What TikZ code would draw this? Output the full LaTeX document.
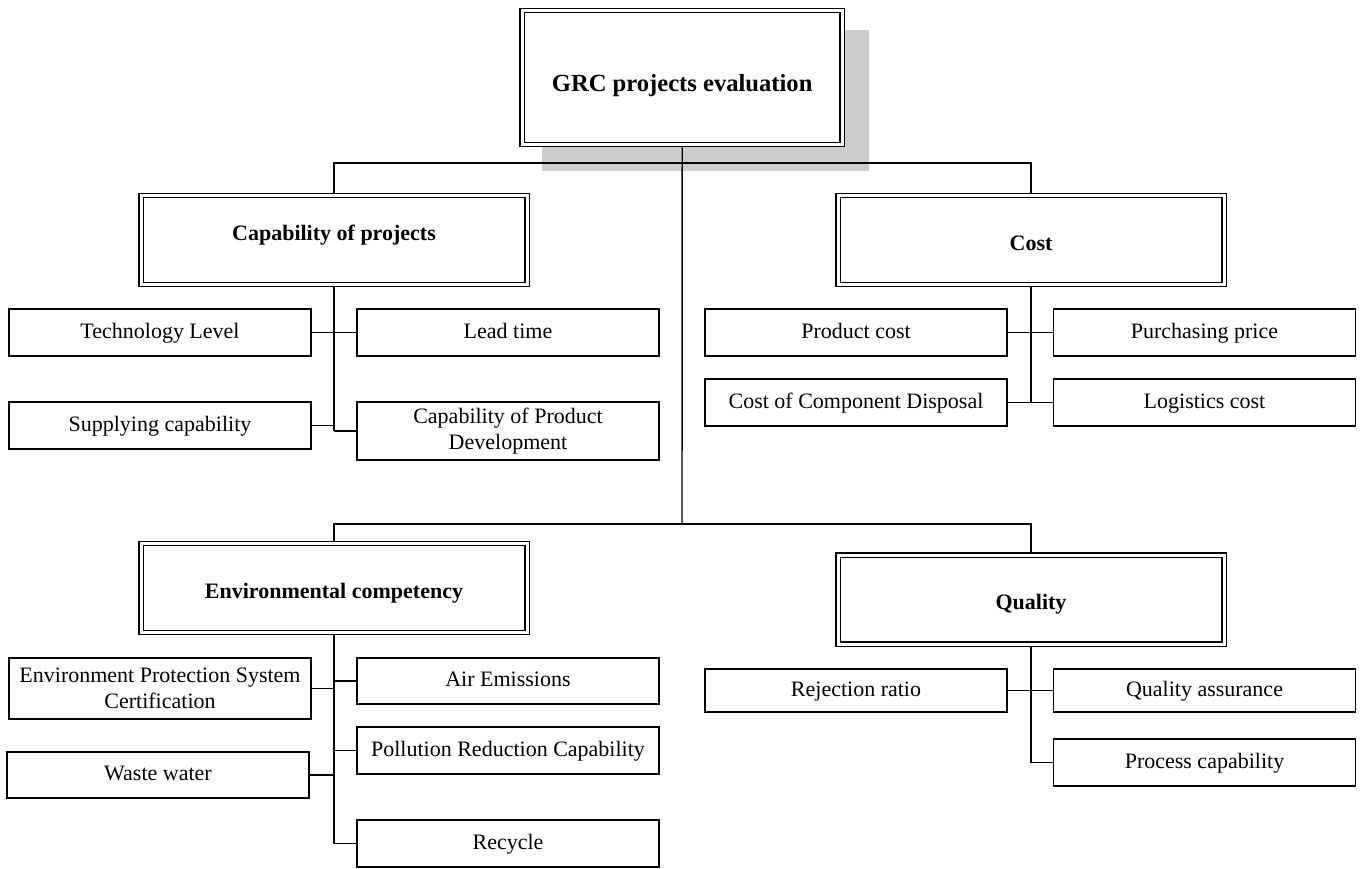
\documentclass[tikz,border=0pt]{standalone}
\usepackage{fontspec}
\setmainfont{Liberation Serif}

\begin{document}
\begin{tikzpicture}[x=1pt,y=-1pt]

\tikzset{
    topbox/.style={
        draw,
        fill=white,
        double,
        double distance=3.2pt,
        line width=1.3pt,
        minimum width=320pt,
        minimum height=134pt,
        outer sep=2.9pt,
        inner sep=0pt,
        text height=28pt,
        text depth=0pt,
        font=\fontsize{24.6}{29}\selectfont\bfseries
    },
    headbox/.style={
        draw,
        fill=white,
        double,
        double distance=3pt,
        line width=1.2pt,
        minimum width=386pt,
        minimum height=89pt,
        outer sep=2.7pt,
        inner sep=0pt,
        text height=20pt,
        text depth=0pt,
        font=\fontsize{22}{26}\selectfont\bfseries
    },
    leafwrap/.style={
        draw,
        fill=white,
        line width=1.2pt,
        minimum width=302pt,
        minimum height=#1,
        inner sep=0pt,
        align=center,
        font=\fontsize{22}{26}\selectfont
    },
    leafwrap/.default=47pt,
    leaf/.style={
        leafwrap=#1,
        text height=16pt,
        text depth=5pt
    },
    leaf/.default=47pt,
    wire/.style={
        line width=1.4pt
    }
}

\useasboundingbox (0,0) rectangle (1364,868);

% shadow of the goal box
\fill[black!20] (542,30) rectangle (869,171);

\node(goal) [topbox] at (682.2,77.4) {GRC projects evaluation};

\node(capab) [headbox,text height=15pt,text depth=14pt] at (334,240) {Capability of projects};
\node(cost) [headbox] at (1031,240) {Cost};
\node(env) [headbox] at (334,588) {Environmental competency};
\node(qual) [headbox] at (1031,599.5) {Quality};

% capability of projects
\node(tech) [leaf] at (160,332.5) {Technology Level};
\node(lead) [leaf] at (508,332.5) {Lead time};
\node(supp) [leaf] at (160,425.5) {Supplying capability};
\node(cpd) [leafwrap=58pt] at (508,431) {Capability of Product\\Development};

% cost
\node(pcost) [leaf] at (856,332.5) {Product cost};
\node(price) [leaf] at (1204.5,332.5) {Purchasing price};
\node(ccd) [leaf] at (856,402.5) {Cost of Component Disposal};
\node(logi) [leaf] at (1204.5,402.5) {Logistics cost};

% environmental competency
\node(epsc) [leafwrap=61pt] at (160,688.5) {Environment Protection System\\Certification};
\node(air) [leaf=46pt] at (508,681) {Air Emissions};
\node(poll) [leaf] at (508,750.5) {Pollution Reduction Capability};
\node(waste) [leaf=46pt] at (158,775) {Waste water};
\node(recy) [leaf] at (508,843.5) {Recycle};

% quality
\node(rej) [leaf=43pt] at (856,690.5) {Rejection ratio};
\node(qa) [leaf=43pt] at (1204.5,690.5) {Quality assurance};
\node(proc) [leaf] at (1204.5,762.5) {Process capability};

\coordinate (bus1) at (682,163);
\coordinate (bus2) at (682,524);

\draw[wire] (goal.south) -- (bus2);
\draw[wire] (capab.north) |- (bus1) -| (cost.north);
\draw[wire] (env.north) |- (bus2) -| (qual.north);

\draw[wire] (capab.south) -- (capab.south |- cpd.west);
\draw[wire] (tech.east) -- (lead.west);
\draw[wire] (supp.east) -- (supp.east -| capab.south);
\draw[wire] (cpd.west) -- (cpd.west -| capab.south);

\draw[wire] (cost.south) -- (cost.south |- ccd.east);
\draw[wire] (pcost.east) -- (price.west);
\draw[wire] (ccd.east) -- (logi.west);

\draw[wire] (env.south) -- (env.south |- recy.west);
\draw[wire] (epsc.east) -- (epsc.east -| env.south);
\draw[wire] (air.west) -- (air.west -| env.south);
\draw[wire] (poll.west) -- (poll.west -| env.south);
\draw[wire] (waste.east) -- (waste.east -| env.south);
\draw[wire] (recy.west) -- (recy.west -| env.south);

\draw[wire] (qual.south) -- (qual.south |- proc.west);
\draw[wire] (rej.east) -- (qa.west);
\draw[wire] (proc.west) -- (proc.west -| qual.south);

\end{tikzpicture}
\end{document}
